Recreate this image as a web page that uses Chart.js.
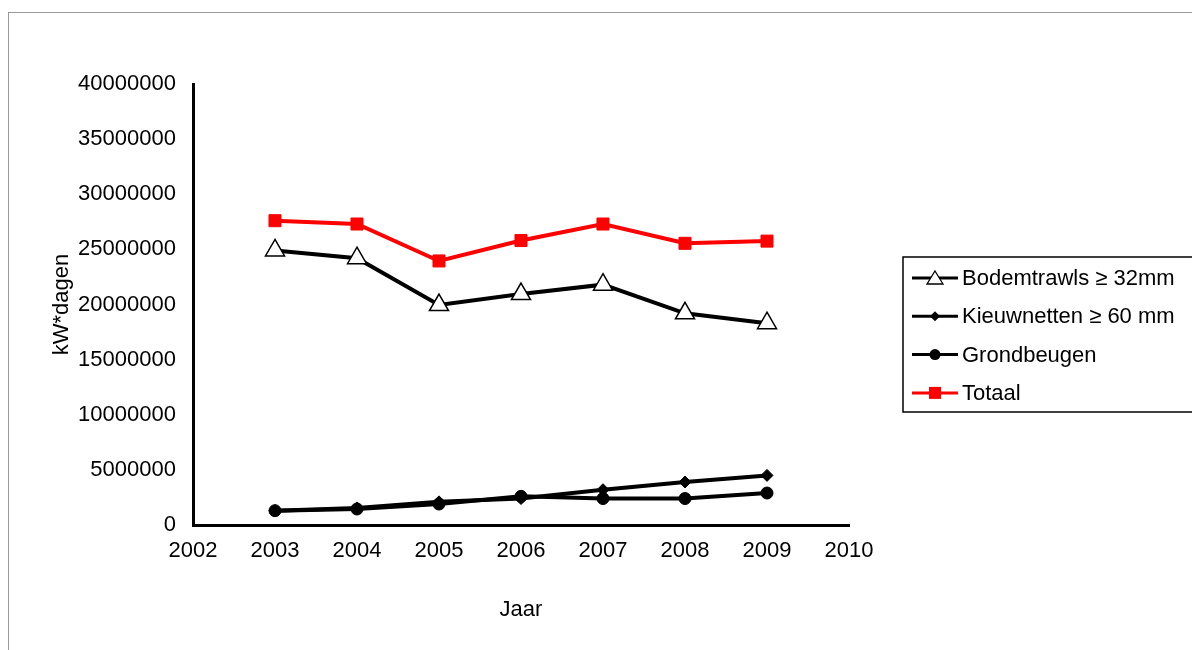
<!DOCTYPE html>
<html>
<head>
<meta charset="utf-8">
<script src="https://cdn.jsdelivr.net/npm/chart.js@4.4.0/dist/chart.umd.min.js"></script>
<style>
    body { margin: 0; background: #fff; }
    #wrap { position: relative; width: 1192px; height: 650px; }
    #kader { position: absolute; left: 8px; top: 12px; width: 1200px; height: 700px; border: 1.5px solid #999; box-sizing: border-box; }
    canvas { position: absolute; left: 0; top: 0; }
</style>
</head>
<body>
<div id="wrap">
    <div id="kader"></div>
    <canvas id="grafiek" width="1192" height="650"></canvas>
</div>
<script>
const jaren = [2003, 2004, 2005, 2006, 2007, 2008, 2009];
const bodemtrawls = [24900000, 24200000, 19950000, 20950000, 21800000, 19200000, 18300000];
const kieuwnetten = [1300000, 1550000, 2100000, 2400000, 3200000, 3900000, 4500000];
const grondbeugen = [1300000, 1450000, 1900000, 2600000, 2400000, 2400000, 2900000];
const totaal = [27600000, 27300000, 23950000, 25800000, 27300000, 25550000, 25750000];
const xTicks = [2002, 2003, 2004, 2005, 2006, 2007, 2008, 2009, 2010];

const FONT = 'Liberation Sans, Arial, sans-serif';
const FSIZE = 22;

function punten(arr) {
    return arr.map((v, i) => ({ x: jaren[i], y: v }));
}

// legenda zoals in Excel: lijn - marker - lijn
let excelLegenda = {
    id: 'excelLegenda',
    afterDraw: function (chart) {
        let ctx = chart.ctx;
        let x0 = 903, y0 = 257, w = 300, h = 155;
        ctx.save();
        ctx.strokeStyle = '#000';
        ctx.lineWidth = 1.5;
        ctx.strokeRect(x0, y0, w, h);
        ctx.font = FSIZE + 'px ' + FONT;
        ctx.textBaseline = 'middle';
        chart.data.datasets.forEach((ds, i) => {
            let y = y0 + 21 + i * 38.3;
            ctx.strokeStyle = ds.borderColor;
            ctx.lineWidth = 3;
            ctx.beginPath();
            ctx.moveTo(x0 + 9, y);
            ctx.lineTo(x0 + 55, y);
            ctx.stroke();
            let mx = x0 + 32;
            ctx.fillStyle = ds.pointBackgroundColor;
            ctx.strokeStyle = ds.pointBorderColor;
            ctx.lineWidth = 1.3;
            if (ds.pointStyle === 'triangle') {
                ctx.beginPath();
                ctx.moveTo(mx, y - 7);
                ctx.lineTo(mx + 8, y + 6);
                ctx.lineTo(mx - 8, y + 6);
                ctx.closePath();
                ctx.fill();
                ctx.stroke();
            } else if (ds.pointStyle === 'rectRot') {
                ctx.beginPath();
                ctx.moveTo(mx, y - 5);
                ctx.lineTo(mx + 5, y);
                ctx.lineTo(mx, y + 5);
                ctx.lineTo(mx - 5, y);
                ctx.closePath();
                ctx.fill();
            } else if (ds.pointStyle === 'circle') {
                ctx.beginPath();
                ctx.arc(mx, y, 5.5, 0, Math.PI * 2);
                ctx.fill();
            } else {
                ctx.fillRect(mx - 6, y - 6, 12, 12);
            }
            ctx.fillStyle = '#000';
            ctx.fillText(ds.label, x0 + 59, y + 1);
        });
        ctx.restore();
    }
};

new Chart(document.getElementById('grafiek'), {
    type: 'line',
    data: {
        datasets: [
            {
                label: 'Bodemtrawls \u2265 32mm',
                data: punten(bodemtrawls),
                borderColor: '#000',
                borderWidth: 4,
                pointStyle: 'triangle',
                pointRadius: 11,
                pointBackgroundColor: '#fff',
                pointBorderColor: '#000',
                pointBorderWidth: 1.5
            },
            {
                label: 'Kieuwnetten \u2265 60 mm',
                data: punten(kieuwnetten),
                borderColor: '#000',
                borderWidth: 4,
                pointStyle: 'rectRot',
                pointRadius: 6,
                pointBackgroundColor: '#000',
                pointBorderColor: '#000',
                pointBorderWidth: 1
            },
            {
                label: 'Grondbeugen',
                data: punten(grondbeugen),
                borderColor: '#000',
                borderWidth: 4,
                pointStyle: 'circle',
                pointRadius: 6,
                pointBackgroundColor: '#000',
                pointBorderColor: '#000',
                pointBorderWidth: 1
            },
            {
                label: 'Totaal',
                data: punten(totaal),
                borderColor: '#ff0000',
                borderWidth: 4,
                pointStyle: 'rect',
                pointRadius: 8.5,
                pointBackgroundColor: '#ff0000',
                pointBorderColor: '#ff0000',
                pointBorderWidth: 1
            }
        ]
    },
    options: {
        responsive: false,
        animation: false,
        layout: { padding: { left: 49, top: 84, right: 343, bottom: 25 } },
        scales: {
            x: {
                type: 'linear',
                min: 2002,
                max: 2010,
                afterBuildTicks: function (scale) {
                    scale.ticks = xTicks.map(v => ({ value: v }));
                },
                afterFit: function (scale) { scale.height = 100; },
                grid: { display: false, drawOnChartArea: false, tickLength: 7, tickColor: '#000', tickWidth: 2 },
                border: { color: '#000', width: 3 },
                ticks: {
                    color: '#000',
                    font: { family: FONT, size: FSIZE },
                    padding: 6,
                    maxRotation: 0,
                    callback: v => String(v)
                },
                title: {
                    display: true,
                    text: 'Jaar',
                    color: '#000',
                    font: { family: FONT, size: FSIZE },
                    padding: { top: 0, bottom: 2 }
                }
            },
            y: {
                min: 0,
                max: 40000000,
                afterFit: function (scale) { scale.width = 144; },
                grid: { display: false, drawOnChartArea: false, tickLength: 7, tickColor: '#000', tickWidth: 2 },
                border: { color: '#000', width: 3 },
                ticks: {
                    stepSize: 5000000,
                    color: '#000',
                    font: { family: FONT, size: FSIZE },
                    padding: 10,
                    callback: v => String(v)
                },
                title: {
                    display: true,
                    text: 'kW*dagen',
                    color: '#000',
                    font: { family: FONT, size: FSIZE },
                    padding: 0
                }
            }
        },
        plugins: {
            legend: { display: false },
            tooltip: { enabled: false }
        }
    },
    plugins: [excelLegenda]
});
</script>
</body>
</html>
